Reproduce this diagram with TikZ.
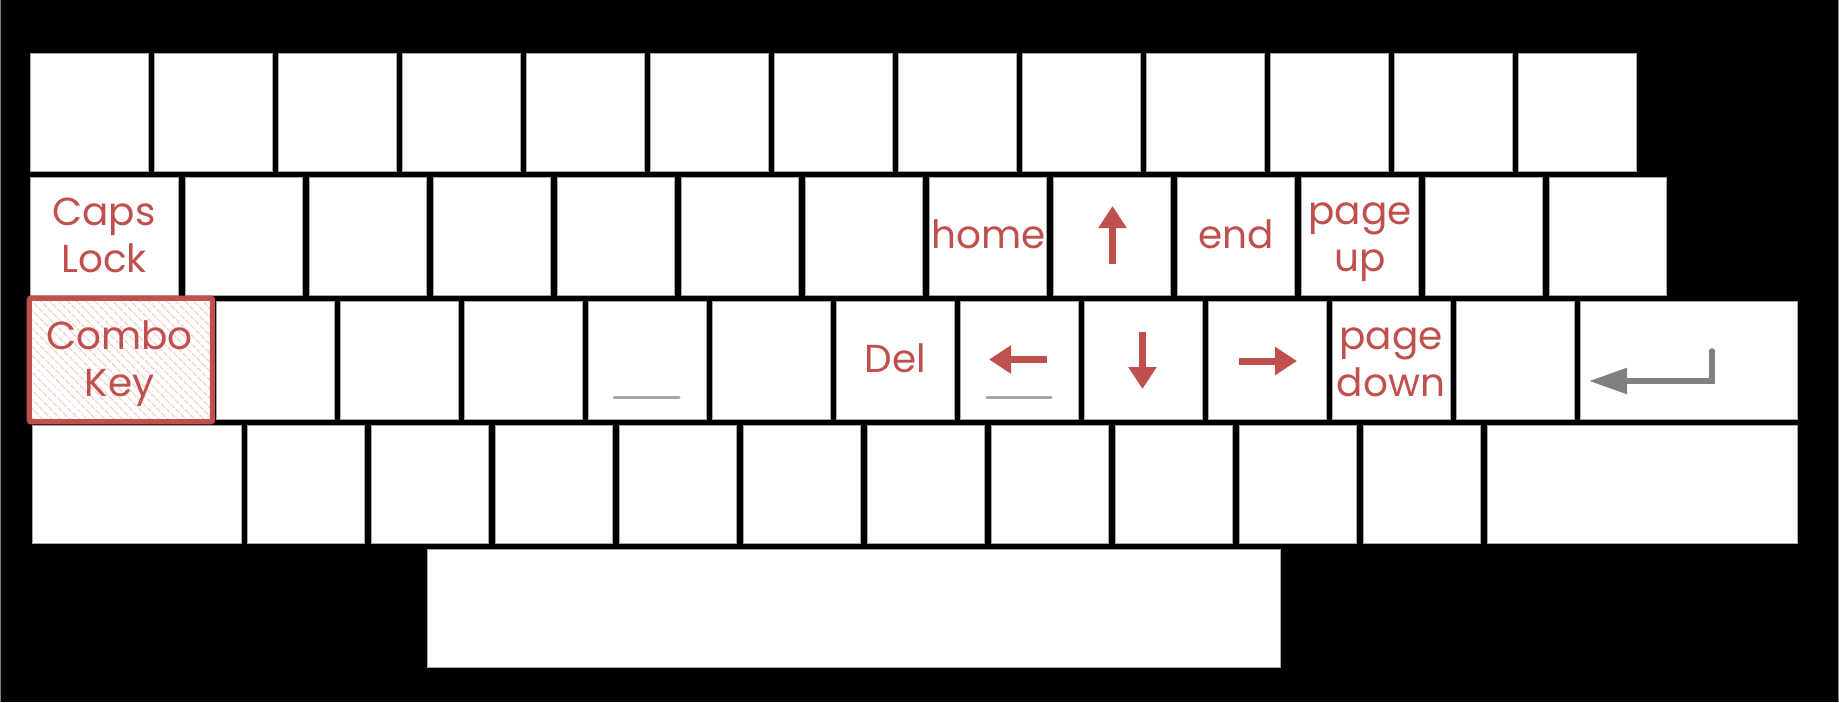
\documentclass[tikz,border=0pt]{standalone}
\usepackage{fontspec}
\setmainfont{Poppins}
\usetikzlibrary{arrows.meta,patterns.meta}
\definecolor{keyred}{HTML}{C0504D}
\definecolor{keyedge}{HTML}{A6A6A6}
\definecolor{hatchpink}{HTML}{F2D8D7}
\definecolor{entergray}{HTML}{808080}
\definecolor{undergray}{HTML}{A6A6A6}
\definecolor{framegray}{HTML}{808080}
\begin{document}
\begin{tikzpicture}[x=1pt,y=-1pt,
  keybox/.style={draw=keyedge, line width=0.8pt, fill=white, inner sep=0pt, outer sep=0pt, minimum height=118pt},
  lbl/.style={text=keyred, font=\fontsize{39}{47}\selectfont, align=center, inner sep=0pt},
  redarrow/.style={draw=keyred, line width=7pt, -{Triangle[length=22pt,width=27pt]}},
  enterarrow/.style={draw=entergray, line width=5.5pt, line cap=round, line join=miter, -{Triangle[length=38pt,width=25pt]}},
  underline/.style={draw=undergray, line width=3pt, line cap=round},
  combobox/.style={draw=keyred, line width=5.3pt, rounded corners=2pt, inner sep=0pt, outer sep=0pt,
    minimum width=183.3pt, minimum height=123.6pt, preaction={fill=white},
    pattern={Lines[angle=-45,distance=6.4pt,line width=2pt]}, pattern color=hatchpink}
]
\useasboundingbox (0,0) rectangle (1839,702);
\fill[black] (0,0) rectangle (1839,702);
\draw[framegray, line width=1.2pt] (0.6,0) -- (0.6,702);
\draw[framegray, line width=1.2pt] (1838.4,0) -- (1838.4,702);

% row 1
\foreach \i in {0,...,12} {\node[keybox, minimum width=118pt] (ra\i) at ({89+124*\i},112) {};}
% row 2
\node[keybox, minimum width=148pt] (caps) at (104,236) {};
\foreach \i in {0,...,11} {\node[keybox, minimum width=117pt] (rb\i) at ({243.5+124*\i},236) {};}
% row 3
\foreach \i in {0,...,10} {\node[keybox, minimum width=118pt] (rc\i) at ({275+124*\i},360) {};}
\node[keybox, minimum width=217pt] (enter) at (1688.5,360) {};
\node[combobox] (combo) at (120.85,360) {};
% row 4
\node[keybox, minimum width=209pt] (lshift) at (136.5,484) {};
\foreach \i in {0,...,9} {\node[keybox, minimum width=117pt] (rd\i) at ({305.5+124*\i},484) {};}
\node[keybox, minimum width=310pt] (rshift) at (1642,484) {};
% space bar
\node[keybox, minimum width=853pt] (space) at (853.5,608) {};

% labels
\node[lbl] (capslbl) at (104,235) {Caps\\Lock};
\node[lbl] (homelbl) at (988.5,234) {home};
\node[lbl] (endlbl) at (1236,234) {end};
\node[lbl] (pageuplbl) at (1360,242) {page\\up};
\node[lbl] (combolbl) at (119.5,364) {Combo\\Key};
\node[lbl] (dellbl) at (895.5,358) {Del};
\node[lbl] (pagedownlbl) at (1391,362) {page\\down};

% arrows
\coordinate (upS) at (1112.5,264);
\coordinate (upT) at (1112.5,206);
\draw[redarrow] (upS) -- (upT);
\coordinate (leftS) at (1047,359.5);
\coordinate (leftT) at (989,359.5);
\draw[redarrow] (leftS) -- (leftT);
\coordinate (downS) at (1142.5,332);
\coordinate (downT) at (1142.5,389);
\draw[redarrow] (downS) -- (downT);
\coordinate (rightS) at (1239,361);
\coordinate (rightT) at (1297,361);
\draw[redarrow] (rightS) -- (rightT);

% enter arrow
\coordinate (entA) at (1712,351);
\coordinate (entB) at (1712,381);
\coordinate (entT) at (1589,381);
\draw[enterarrow] (entA) -- (entB) -- (entT);

% underscores
\coordinate (usA) at (614,397);
\coordinate (usB) at (679,397);
\draw[underline] (usA) -- (usB);
\coordinate (ulA) at (987,397);
\coordinate (ulB) at (1051,397);
\draw[underline] (ulA) -- (ulB);
\end{tikzpicture}
\end{document}
